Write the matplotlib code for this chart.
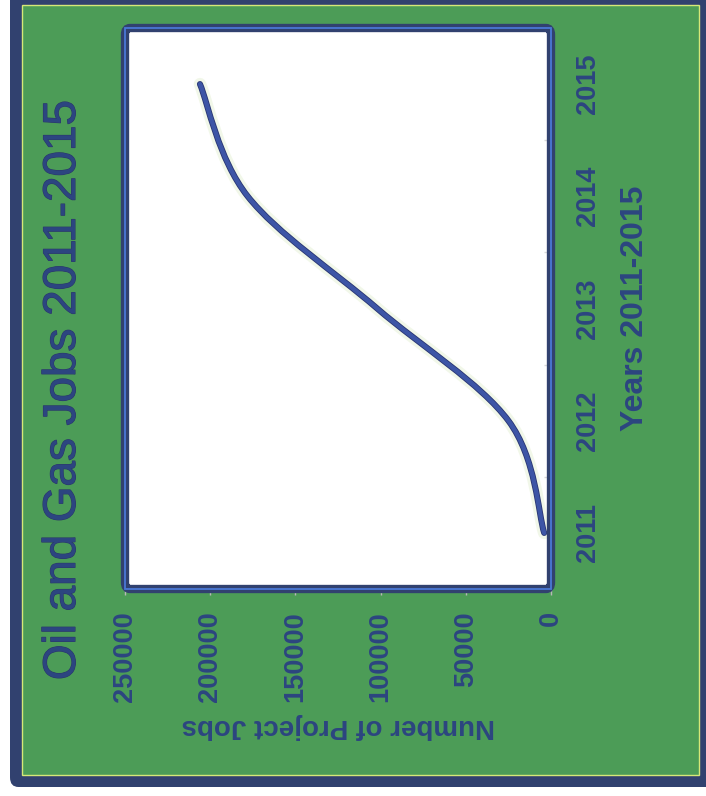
import matplotlib
matplotlib.use('Agg')
import matplotlib.pyplot as plt
import matplotlib.patheffects as pe
from matplotlib.path import Path
from matplotlib.patches import PathPatch, Rectangle, FancyBboxPatch

years = [2011, 2012, 2013, 2014, 2015]
jobs = [4000, 25000, 102000, 178000, 206000]
job_ticks = [0, 50000, 100000, 150000, 200000, 250000]

title = 'Oil and Gas Jobs 2011-2015'
xlab = 'Number of Project Jobs'
ylab = 'Years 2011-2015'

plt.rcParams['font.family'] = ['Liberation Sans', 'DejaVu Sans']

W, H = 706, 796
navy = '#31416f'
green = '#4c9c57'
txt = '#2c4580'
line_c = '#3d55a6'

fig = plt.figure(figsize=(W / 100, H / 100), dpi=100)
fig.patch.set_facecolor('white')

# scanned frame: navy outer border, green panel
fig.add_artist(FancyBboxPatch((10 / W, 1 - 787 / H), 720 / W, 810 / H,
                              boxstyle='round,pad=0,rounding_size=0.012',
                              transform=fig.transFigure, fc=navy, ec='none', zorder=-3))
fig.add_artist(Rectangle((22 / W, 1 - 775 / H), 677 / W, 770 / H,
                         transform=fig.transFigure, fc=green, ec='#d6e878',
                         lw=1, zorder=-2))

ax = fig.add_axes([125 / W, 1 - 589 / H, 426 / W, 561 / H])
ax.set_facecolor('white')

# smoothed line (Catmull-Rom style bezier through the points, like Excel)
pts = list(zip(jobs, years))
verts = [pts[0]]
codes = [Path.MOVETO]
for i in range(len(pts) - 1):
    p0 = pts[i - 1] if i > 0 else pts[i]
    p1 = pts[i]
    p2 = pts[i + 1]
    p3 = pts[i + 2] if i + 2 < len(pts) else pts[i + 1]
    c1 = (p1[0] + (p2[0] - p0[0]) / 6, p1[1] + (p2[1] - p0[1]) / 6)
    c2 = (p2[0] - (p3[0] - p1[0]) / 6, p2[1] - (p3[1] - p1[1]) / 6)
    verts += [c1, c2, p2]
    codes += [Path.CURVE4] * 3
curve = PathPatch(Path(verts, codes), transform=ax.transData, fill=False,
                  ec=line_c, lw=3.2, capstyle='round', zorder=3)
curve.set_path_effects([pe.Stroke(linewidth=9, foreground='#e2efcf', alpha=0.45),
                        pe.Stroke(linewidth=4.4, foreground='#2a3672'),
                        pe.Normal()])
ax.add_patch(curve)

ax.set_xlim(250000, 0)
ax.set_ylim(2010.5, 2015.5)
ax.set_xticks(job_ticks)
ax.set_xticklabels([str(v) for v in job_ticks])
ax.set_yticks(years)
ax.set_yticks([y + 0.5 for y in years[:-1]], minor=True)
ax.yaxis.tick_right()
ax.yaxis.set_label_position('right')

# rounded double border round the plot area
for s in ax.spines.values():
    s.set_visible(False)
ax.add_patch(FancyBboxPatch((0, 0), 1, 1, transform=ax.transAxes,
                            boxstyle='round,pad=0,rounding_size=0.012',
                            fill=False, ec=navy, lw=6, clip_on=False, zorder=4))
ax.add_patch(Rectangle((0, 0), 1, 1, transform=ax.transAxes, fill=False,
                       ec='#4a78d6', lw=1.3, clip_on=False, zorder=5))

ax.tick_params(axis='x', which='major', length=4, width=1, color='#b8b8b8',
               pad=12, labelsize=19.5, labelcolor=txt, labelrotation=90)
ax.tick_params(axis='y', which='major', length=0, pad=17, labelsize=19.5,
               labelcolor=txt, labelrotation=90)
ax.tick_params(axis='y', which='minor', length=5, width=1, color='#d8d8d8',
               direction='in')
for lab in ax.get_xticklabels():
    lab.set_fontweight('bold')
for lab in ax.get_yticklabels():
    lab.set_fontweight('bold')
    lab.set_va('center')

ax.set_xlabel(xlab, rotation=180, fontsize=20, fontweight='bold', color=txt,
              labelpad=8)
ax.set_ylabel(ylab, rotation=90, fontsize=23, fontweight='bold', color=txt,
              labelpad=14)

fig.text(63 / W, 1 - 390 / H, title, rotation=90, ha='center', va='center',
         fontsize=33, color=txt,
         path_effects=[pe.Stroke(linewidth=0.8, foreground='#2a3868'), pe.Normal()])

plt.savefig('out.png', dpi=100)
